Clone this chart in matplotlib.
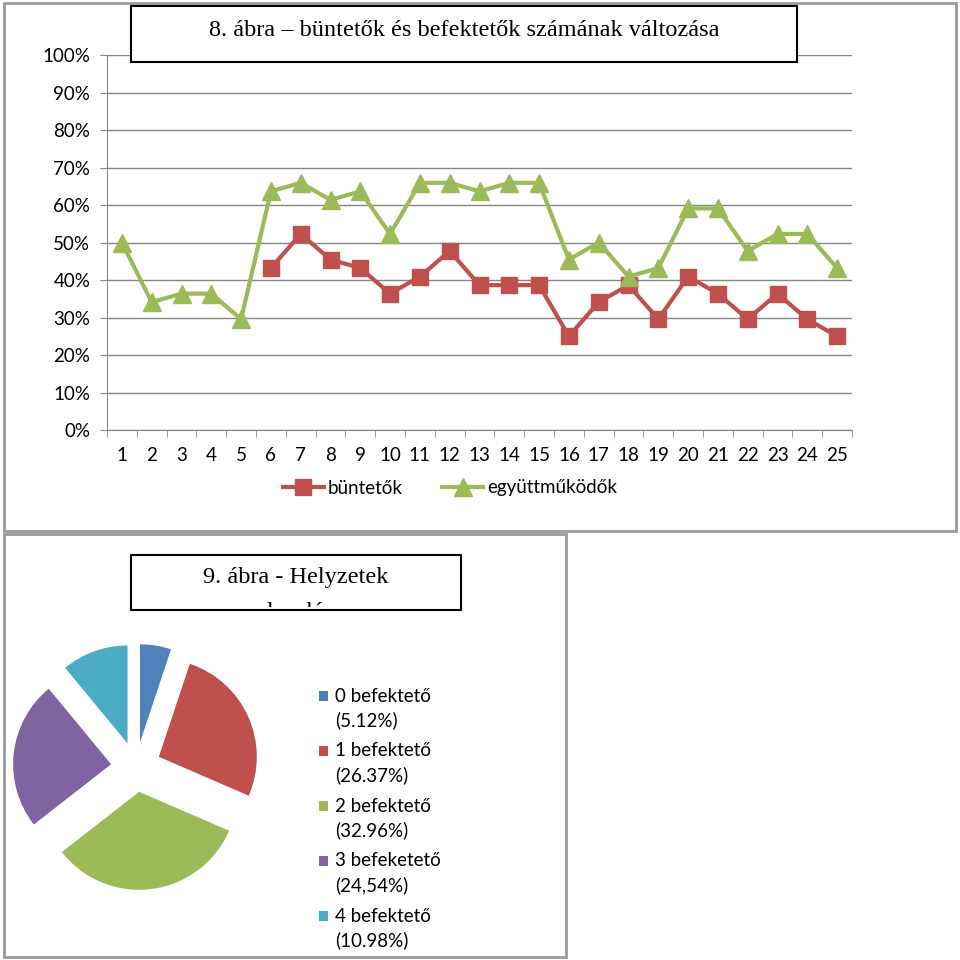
import numpy as np
import matplotlib.pyplot as plt
from matplotlib.patches import Rectangle
from matplotlib.transforms import Bbox, TransformedBbox
from matplotlib.ticker import PercentFormatter, FixedLocator

# 8. abra data (share of 44 players per round)
rounds = list(range(1, 26))
buntetok = [np.nan, np.nan, np.nan, np.nan, np.nan,
            19/44, 23/44, 20/44, 19/44, 16/44, 18/44, 21/44, 17/44, 17/44, 17/44,
            11/44, 15/44, 17/44, 13/44, 18/44, 16/44, 13/44, 16/44, 13/44, 11/44]
egyuttmukodok = [22/44, 15/44, 16/44, 16/44, 13/44,
                 28/44, 29/44, 27/44, 28/44, 23/44, 29/44, 29/44, 28/44, 29/44, 29/44,
                 20/44, 22/44, 18/44, 19/44, 26/44, 26/44, 21/44, 23/44, 23/44, 19/44]

# 9. abra data
pie_labels = ['0 befektető', '1 befektető', '2 befektető', '3 befeketető', '4 befektető']
pie_pct = ['(5.12%)', '(26.37%)', '(32.96%)', '(24,54%)', '(10.98%)']
pie_values = [5.12, 26.37, 32.96, 24.54, 10.98]
pie_colors = ['#4F81BD', '#C0504D', '#9BBB59', '#8064A2', '#4BACC6']

RED = '#C0504D'
GREEN = '#9BBB59'
GRAY = '#868686'
SANS = 'Lato'
SERIF = 'Liberation Serif'

fig = plt.figure(figsize=(9.6, 9.6), dpi=100)
W = H = 960

# line chart
ax = fig.add_axes([107/W, 1 - 430/H, (852-107)/W, (430-55)/H])
ax.plot(rounds, buntetok, color=RED, lw=3, marker='s', ms=11, label='büntetők', zorder=3)
ax.plot(rounds, egyuttmukodok, color=GREEN, lw=3, marker='^', ms=13, label='együttműködők', zorder=3)
ax.set_xlim(0.5, 25.5)
ax.set_ylim(0, 1)
ax.set_yticks(np.arange(0, 1.01, 0.1))
ax.yaxis.set_major_formatter(PercentFormatter(1.0, decimals=0))
ax.set_xticks(rounds)
ax.xaxis.set_minor_locator(FixedLocator(np.arange(0.5, 26, 1)))
ax.tick_params(axis='x', which='major', length=0, pad=12, labelsize=13.5)
ax.tick_params(axis='x', which='minor', length=5, color=GRAY)
ax.tick_params(axis='y', length=5, color=GRAY, pad=7, labelsize=13.5)
for lab in ax.get_xticklabels() + ax.get_yticklabels():
    lab.set_fontfamily(SANS)
ax.grid(axis='y', color=GRAY, lw=1)
ax.set_axisbelow(True)
for s in ['top', 'right']:
    ax.spines[s].set_visible(False)
for s in ['left', 'bottom']:
    ax.spines[s].set_color(GRAY)
leg = ax.legend(loc='center', bbox_to_anchor=(450/W, 1 - 488/H), bbox_transform=fig.transFigure,
                ncol=2, frameon=False, handlelength=2.2, columnspacing=2.1, handletextpad=0.2,
                prop={'family': SANS, 'size': 13.5})

# pie chart in pixel coordinates
pax = fig.add_axes([0, 0, 1, 1])
pax.patch.set_visible(False)
pax.pie(pie_values, colors=pie_colors, startangle=90, counterclock=False,
        explode=[25] * len(pie_values), radius=98, center=(136, H - 767),
        wedgeprops={'linewidth': 0})
pax.set_xlim(0, W)
pax.set_ylim(0, H)
pax.set_aspect('auto')
pax.axis('off')

# overlay: frames, titles, pie legend (y pixel from top)
ov = fig.add_axes([0, 0, 1, 1], zorder=10)
ov.patch.set_visible(False)
ov.set_xlim(0, W)
ov.set_ylim(H, 0)
ov.axis('off')
ov.add_patch(Rectangle((4, 3), 952, 528, fill=False, ec='#9a9a9a', lw=2))
ov.add_patch(Rectangle((4, 534), 562, 423, fill=False, ec='#9a9a9a', lw=2))

ov.add_patch(Rectangle((131, 6), 666, 56, fc='white', ec='black', lw=1.5))
ov.text(464, 31, '8. ábra – büntetők és befektetők számának változása', ha='center', va='center',
        family=SERIF, fontsize=17.5)

ov.add_patch(Rectangle((131, 555), 330, 55, fc='white', ec='black', lw=1.5))
ov.text(296, 578, '9. ábra - Helyzetek', ha='center', va='center', family=SERIF, fontsize=17.5)
hidden = ov.text(300, 602, 'eloszlása', ha='center', va='top', family=SERIF, fontsize=17.5)
hidden.set_clip_box(TransformedBbox(Bbox.from_extents(132, 556, 460, 607), ov.transData))
hidden.set_clip_on(True)

for i, (lab, pct, col) in enumerate(zip(pie_labels, pie_pct, pie_colors)):
    y0 = 696 + 55 * i
    ov.add_patch(Rectangle((319, y0 - 5), 9, 10, fc=col, ec='none'))
    ov.text(335, y0, lab, va='center', ha='left', family=SANS, fontsize=13.5)
    ov.text(335, y0 + 24, pct, va='center', ha='left', family=SANS, fontsize=13.5)

fig.savefig('out.png', dpi=100, facecolor='white')
